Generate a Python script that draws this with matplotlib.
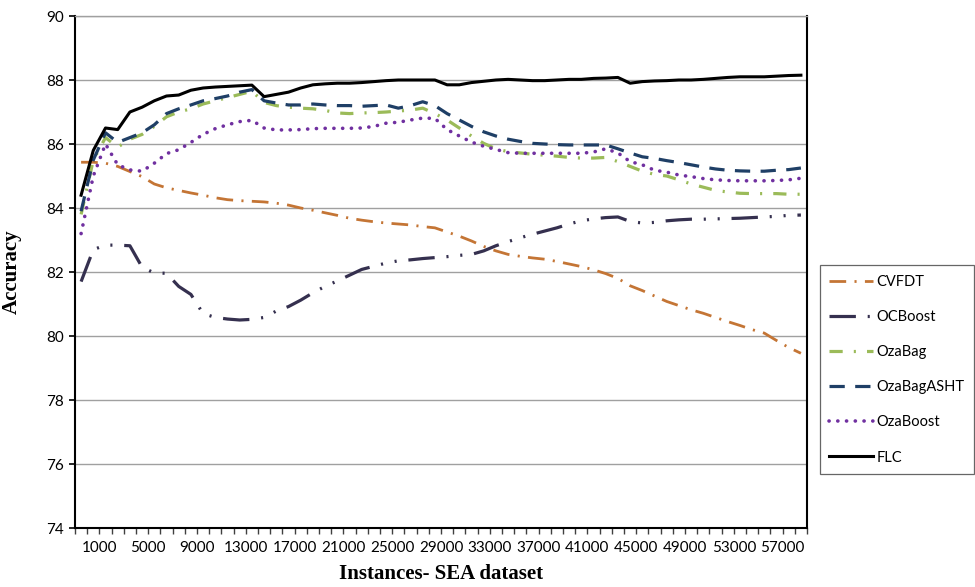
import numpy as np
import matplotlib
matplotlib.use("Agg")
import matplotlib.pyplot as plt
from matplotlib.ticker import FixedLocator, NullFormatter

# accuracy, one value per 1000 instances (60 points)
cvfdt = [85.43, 85.43, 85.40, 85.30, 85.14, 84.98, 84.75, 84.63, 84.55, 84.47,
         84.40, 84.32, 84.26, 84.23, 84.21, 84.19, 84.15, 84.09, 84.00, 83.93,
         83.85, 83.77, 83.68, 83.62, 83.57, 83.53, 83.50, 83.47, 83.42, 83.38,
         83.25, 83.12, 82.97, 82.80, 82.66, 82.55, 82.49, 82.44, 82.40, 82.33,
         82.25, 82.17, 82.07, 81.95, 81.80, 81.57, 81.42, 81.25, 81.08, 80.95,
         80.82, 80.71, 80.58, 80.45, 80.33, 80.20, 80.09, 79.86, 79.64, 79.46]
ocboost = [81.70, 82.70, 82.84, 82.84, 82.82, 82.15, 81.97, 81.96, 81.55, 81.30,
           80.70, 80.58, 80.53, 80.50, 80.52, 80.58, 80.78, 80.92, 81.12, 81.35,
           81.55, 81.72, 81.90, 82.08, 82.18, 82.28, 82.35, 82.38, 82.42, 82.45,
           82.48, 82.52, 82.55, 82.66, 82.82, 82.95, 83.07, 83.18, 83.28, 83.38,
           83.50, 83.60, 83.66, 83.70, 83.72, 83.58, 83.53, 83.55, 83.60, 83.63,
           83.65, 83.65, 83.66, 83.67, 83.68, 83.70, 83.72, 83.74, 83.77, 83.78]
ozabag = [83.80, 85.50, 86.20, 85.90, 86.15, 86.30, 86.55, 86.85, 87.00, 87.10,
          87.25, 87.35, 87.45, 87.55, 87.65, 87.30, 87.20, 87.15, 87.12, 87.10,
          87.05, 86.97, 86.95, 86.97, 86.98, 87.00, 87.03, 87.06, 87.12, 86.95,
          86.75, 86.50, 86.25, 86.02, 85.85, 85.76, 85.72, 85.68, 85.65, 85.62,
          85.58, 85.56, 85.56, 85.58, 85.45, 85.30, 85.15, 85.05, 85.00, 84.88,
          84.75, 84.65, 84.55, 84.50, 84.46, 84.45, 84.45, 84.45, 84.43, 84.43]
ozabag_asht = [83.90, 85.50, 86.35, 86.05, 86.20, 86.35, 86.60, 86.95, 87.10, 87.22,
               87.35, 87.42, 87.50, 87.62, 87.70, 87.35, 87.28, 87.22, 87.22, 87.25,
               87.22, 87.20, 87.20, 87.18, 87.20, 87.22, 87.12, 87.20, 87.32, 87.20,
               86.95, 86.75, 86.55, 86.38, 86.25, 86.15, 86.08, 86.02, 86.00, 85.98,
               85.97, 85.97, 85.97, 85.97, 85.85, 85.72, 85.60, 85.55, 85.48, 85.42,
               85.35, 85.28, 85.22, 85.18, 85.16, 85.15, 85.15, 85.18, 85.20, 85.25]
ozaboost = [83.20, 85.00, 86.00, 85.35, 85.19, 85.15, 85.40, 85.70, 85.82, 86.05,
            86.30, 86.48, 86.60, 86.70, 86.74, 86.50, 86.44, 86.44, 86.45, 86.48,
            86.49, 86.49, 86.49, 86.50, 86.55, 86.65, 86.68, 86.75, 86.81, 86.80,
            86.45, 86.25, 86.06, 85.93, 85.83, 85.73, 85.71, 85.71, 85.71, 85.71,
            85.71, 85.71, 85.75, 85.85, 85.72, 85.45, 85.35, 85.18, 85.12, 85.03,
            84.98, 84.92, 84.88, 84.86, 84.85, 84.85, 84.85, 84.86, 84.88, 84.93]
flc = [84.40, 85.80, 86.50, 86.45, 87.00, 87.15, 87.35, 87.50, 87.53, 87.68,
       87.75, 87.78, 87.80, 87.82, 87.84, 87.48, 87.55, 87.62, 87.75, 87.85,
       87.88, 87.90, 87.90, 87.92, 87.95, 87.98, 88.00, 88.00, 88.00, 88.00,
       87.85, 87.85, 87.92, 87.96, 88.00, 88.02, 88.00, 87.98, 87.98, 88.00,
       88.02, 88.02, 88.05, 88.06, 88.08, 87.90, 87.95, 87.97, 87.98, 88.00,
       88.00, 88.02, 88.05, 88.08, 88.10, 88.10, 88.10, 88.12, 88.14, 88.15]

x_labels = ["1000", "5000", "9000", "13000", "17000", "21000", "25000", "29000",
            "33000", "37000", "41000", "45000", "49000", "53000", "57000"]

plt.rcParams["lines.scale_dashes"] = False
tick_font = "Lato"
title_font = "Liberation Serif"

fig = plt.figure(figsize=(9.75, 5.87), dpi=100)
ax = fig.add_axes([75 / 975, 59 / 587, 732 / 975, 512 / 587])

x = np.arange(len(flc))

ax.plot(x, cvfdt, color="#C47535", lw=2.0, linestyle=(0, (12, 6, 1.5, 6)), label="CVFDT")
ax.plot(x, ocboost, color="#35304F", lw=2.3, linestyle=(0, (19, 8.5, 1.5, 8.5, 1.5, 8.5)),
        label="OCBoost")
ax.plot(x, ozabag, color="#9BBB59", lw=2.3, linestyle=(0, (9.5, 8, 1.5, 8)), label="OzaBag")
ax.plot(x, ozabag_asht, color="#1F3F66", lw=2.3, linestyle=(0, (11, 7.5)), label="OzaBagASHT")
ax.plot(x, ozaboost, color="#7030A0", lw=2.6, linestyle=(0, (0.1, 6.2)),
        dash_capstyle="round", label="OzaBoost")
ax.plot(x, flc, color="black", lw=2.2, label="FLC")

ax.set_xlim(-0.5, len(flc) - 0.5)
ax.set_ylim(74, 90)
ax.set_yticks(np.arange(74, 91, 2))
ax.grid(axis="y", color="#A0A0A0", lw=1.0)
ax.set_axisbelow(True)

label_pos = [1.5 + 4 * i for i in range(len(x_labels))]
ax.xaxis.set_major_locator(FixedLocator(label_pos))
ax.set_xticklabels(x_labels)
ax.xaxis.set_minor_locator(FixedLocator(np.arange(-0.5, len(flc), 1.0)))
ax.xaxis.set_minor_formatter(NullFormatter())
ax.tick_params(axis="x", which="both", direction="out", length=4, width=1, color="#404040")
ax.tick_params(axis="x", which="major", pad=5, labelsize=11)
ax.tick_params(axis="y", direction="out", length=4, width=1.2, pad=4, labelsize=11)
for lab in ax.get_xticklabels() + ax.get_yticklabels():
    lab.set_fontfamily(tick_font)

for side in ["left", "bottom", "right"]:
    ax.spines[side].set_color("black")
    ax.spines[side].set_linewidth(1.5)
ax.spines["top"].set_color("#A0A0A0")
ax.spines["top"].set_linewidth(1.0)

ax.set_xlabel("Instances- SEA dataset", fontfamily=title_font, fontweight="bold", fontsize=15)
ax.set_ylabel("Accuracy", fontfamily=title_font, fontweight="bold", fontsize=15)
ax.xaxis.set_label_coords(0.5, -0.07)
ax.yaxis.set_label_coords(-0.072, 0.5)

leg = fig.legend(loc="lower left", bbox_to_anchor=(820 / 975, 1 - 474 / 587),
                 bbox_transform=fig.transFigure, borderaxespad=0,
                 prop={"family": tick_font, "size": 10.5}, frameon=True, fancybox=False,
                 handlelength=3.0, handletextpad=0.2, labelspacing=1.45, borderpad=0.65)
leg.get_frame().set_edgecolor("#404040")
leg.get_frame().set_linewidth(0.9)

fig.savefig("out.png", dpi=100)
